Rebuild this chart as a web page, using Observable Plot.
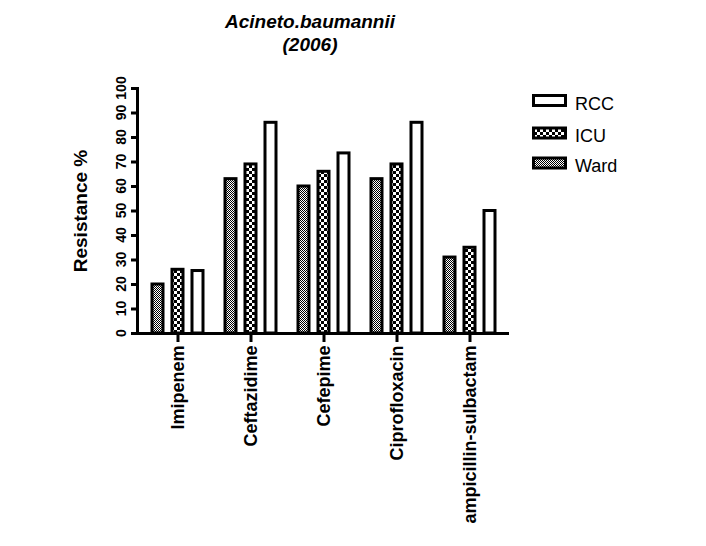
<!DOCTYPE html>
<html><head><meta charset="utf-8">
<script src="https://cdn.jsdelivr.net/npm/d3@7"></script>
<script src="https://cdn.jsdelivr.net/npm/@observablehq/plot@0.6"></script>
<style>
body{margin:0;background:#fff;font-family:"Liberation Sans",Arial,sans-serif;}
#wrap{position:relative;width:706px;height:546px;overflow:hidden;background:#fff;}
#title{position:absolute;left:0;top:10px;width:620px;text-align:center;font-weight:bold;font-style:italic;font-size:19px;line-height:23px;color:#000;}
#chart{position:absolute;left:0;top:0;}
#legend{position:absolute;left:0;top:0;}
</style></head><body>
<div id="wrap">
<svg width="0" height="0" style="position:absolute"><defs>
<pattern id="pWard" width="2" height="2" patternUnits="userSpaceOnUse"><rect width="2" height="2" fill="#fff"/><rect width="1" height="1" fill="#000"/><rect x="1" y="1" width="1" height="1" fill="#000"/></pattern>
<pattern id="pICU" width="6" height="6" patternUnits="userSpaceOnUse"><rect width="6" height="6" fill="#fff"/><rect width="3" height="3" fill="#000"/><rect x="3" y="3" width="3" height="3" fill="#000"/></pattern>
</defs></svg>
<div id="chart"></div>
<div id="title">Acineto.baumannii<br>(2006)</div>
<svg id="legend" width="706" height="546"></svg>
</div>
<script>
const drugs = ["Imipenem","Ceftazidime","Cefepime","Ciprofloxacin","ampicillin-sulbactam"];
const ward = [20, 63, 60, 63, 31];
const icu  = [26, 69, 66, 69, 35];
const rcc  = [25.5, 86, 73.5, 86, 50];
const seriesNames = ["RCC","ICU","Ward"];
const yTicks = [0,10,20,30,40,50,60,70,80,90,100];

const fills = {Ward:"url(#pWard)", ICU:"url(#pICU)", RCC:"#fff"};
const offsets = {Ward:-20, ICU:0, RCC:20};
const rows = [];
drugs.forEach((d,i)=>{
  rows.push({drug:d, series:"Ward", value:ward[i]});
  rows.push({drug:d, series:"ICU", value:icu[i]});
  rows.push({drug:d, series:"RCC", value:rcc[i]});
});

const barMarks = ["Ward","ICU","RCC"].map(s => Plot.barY(rows.filter(r=>r.series===s), {
  x:"drug", y:"value", fill: fills[s], stroke:"#000", strokeWidth:3,
  insetLeft:31, insetRight:31, dx: offsets[s]
}));

const FONT = '"Liberation Sans", Arial, sans-serif';
const plot = Plot.plot({
  width:706, height:546,
  marginLeft:137, marginRight:197, marginTop:88, marginBottom:213,
  style:{fontFamily:FONT, color:"#000", background:"#fff"},
  x:{type:"band", domain:drugs, range:[141,506], padding:0},
  y:{domain:[0,100]},
  marks:[
    ...barMarks,
    Plot.ruleY([0], {stroke:"#000", strokeWidth:3}),
    Plot.frame({anchor:"left", stroke:"#000", strokeWidth:3}),
    Plot.axisY({ticks:yTicks, tickSize:6, strokeWidth:3, label:null, tickFormat:()=>""}),
    Plot.axisX({tickSize:9, tickPadding:3, tickRotate:-90, fontSize:18, fontWeight:"bold", strokeWidth:3, label:null}),
    Plot.text(["Resistance %"], {frameAnchor:"left", rotate:-90, textAnchor:"middle", lineAnchor:"middle", dx:-57, fontSize:19, fontWeight:"bold", fill:"#000"})
  ]
});
document.getElementById("chart").appendChild(plot);

const yS = plot.scale("y");
const lg = d3.select("#legend");
// y tick labels, rotated, positioned with the plot's own y scale
yTicks.forEach(v=>{
  lg.append("text")
    .attr("transform", `translate(126,${yS.apply(v)}) rotate(-90)`)
    .attr("text-anchor","middle")
    .attr("font-size",14).attr("font-weight","bold")
    .attr("font-family",FONT).attr("fill","#000").text(String(v));
});

// legend
const lgTop = [94, 126.5, 156.5];
seriesNames.forEach((s,i)=>{
  lg.append("rect").attr("x",533.5).attr("y",lgTop[i]+1.5).attr("width",32).attr("height",10)
    .attr("fill",fills[s]).attr("stroke","#000").attr("stroke-width",3);
  lg.append("text").attr("x",575).attr("y",lgTop[i]+15.5).attr("font-size",18)
    .attr("font-family",FONT).attr("fill","#000").text(s);
});
</script>
</body></html>
